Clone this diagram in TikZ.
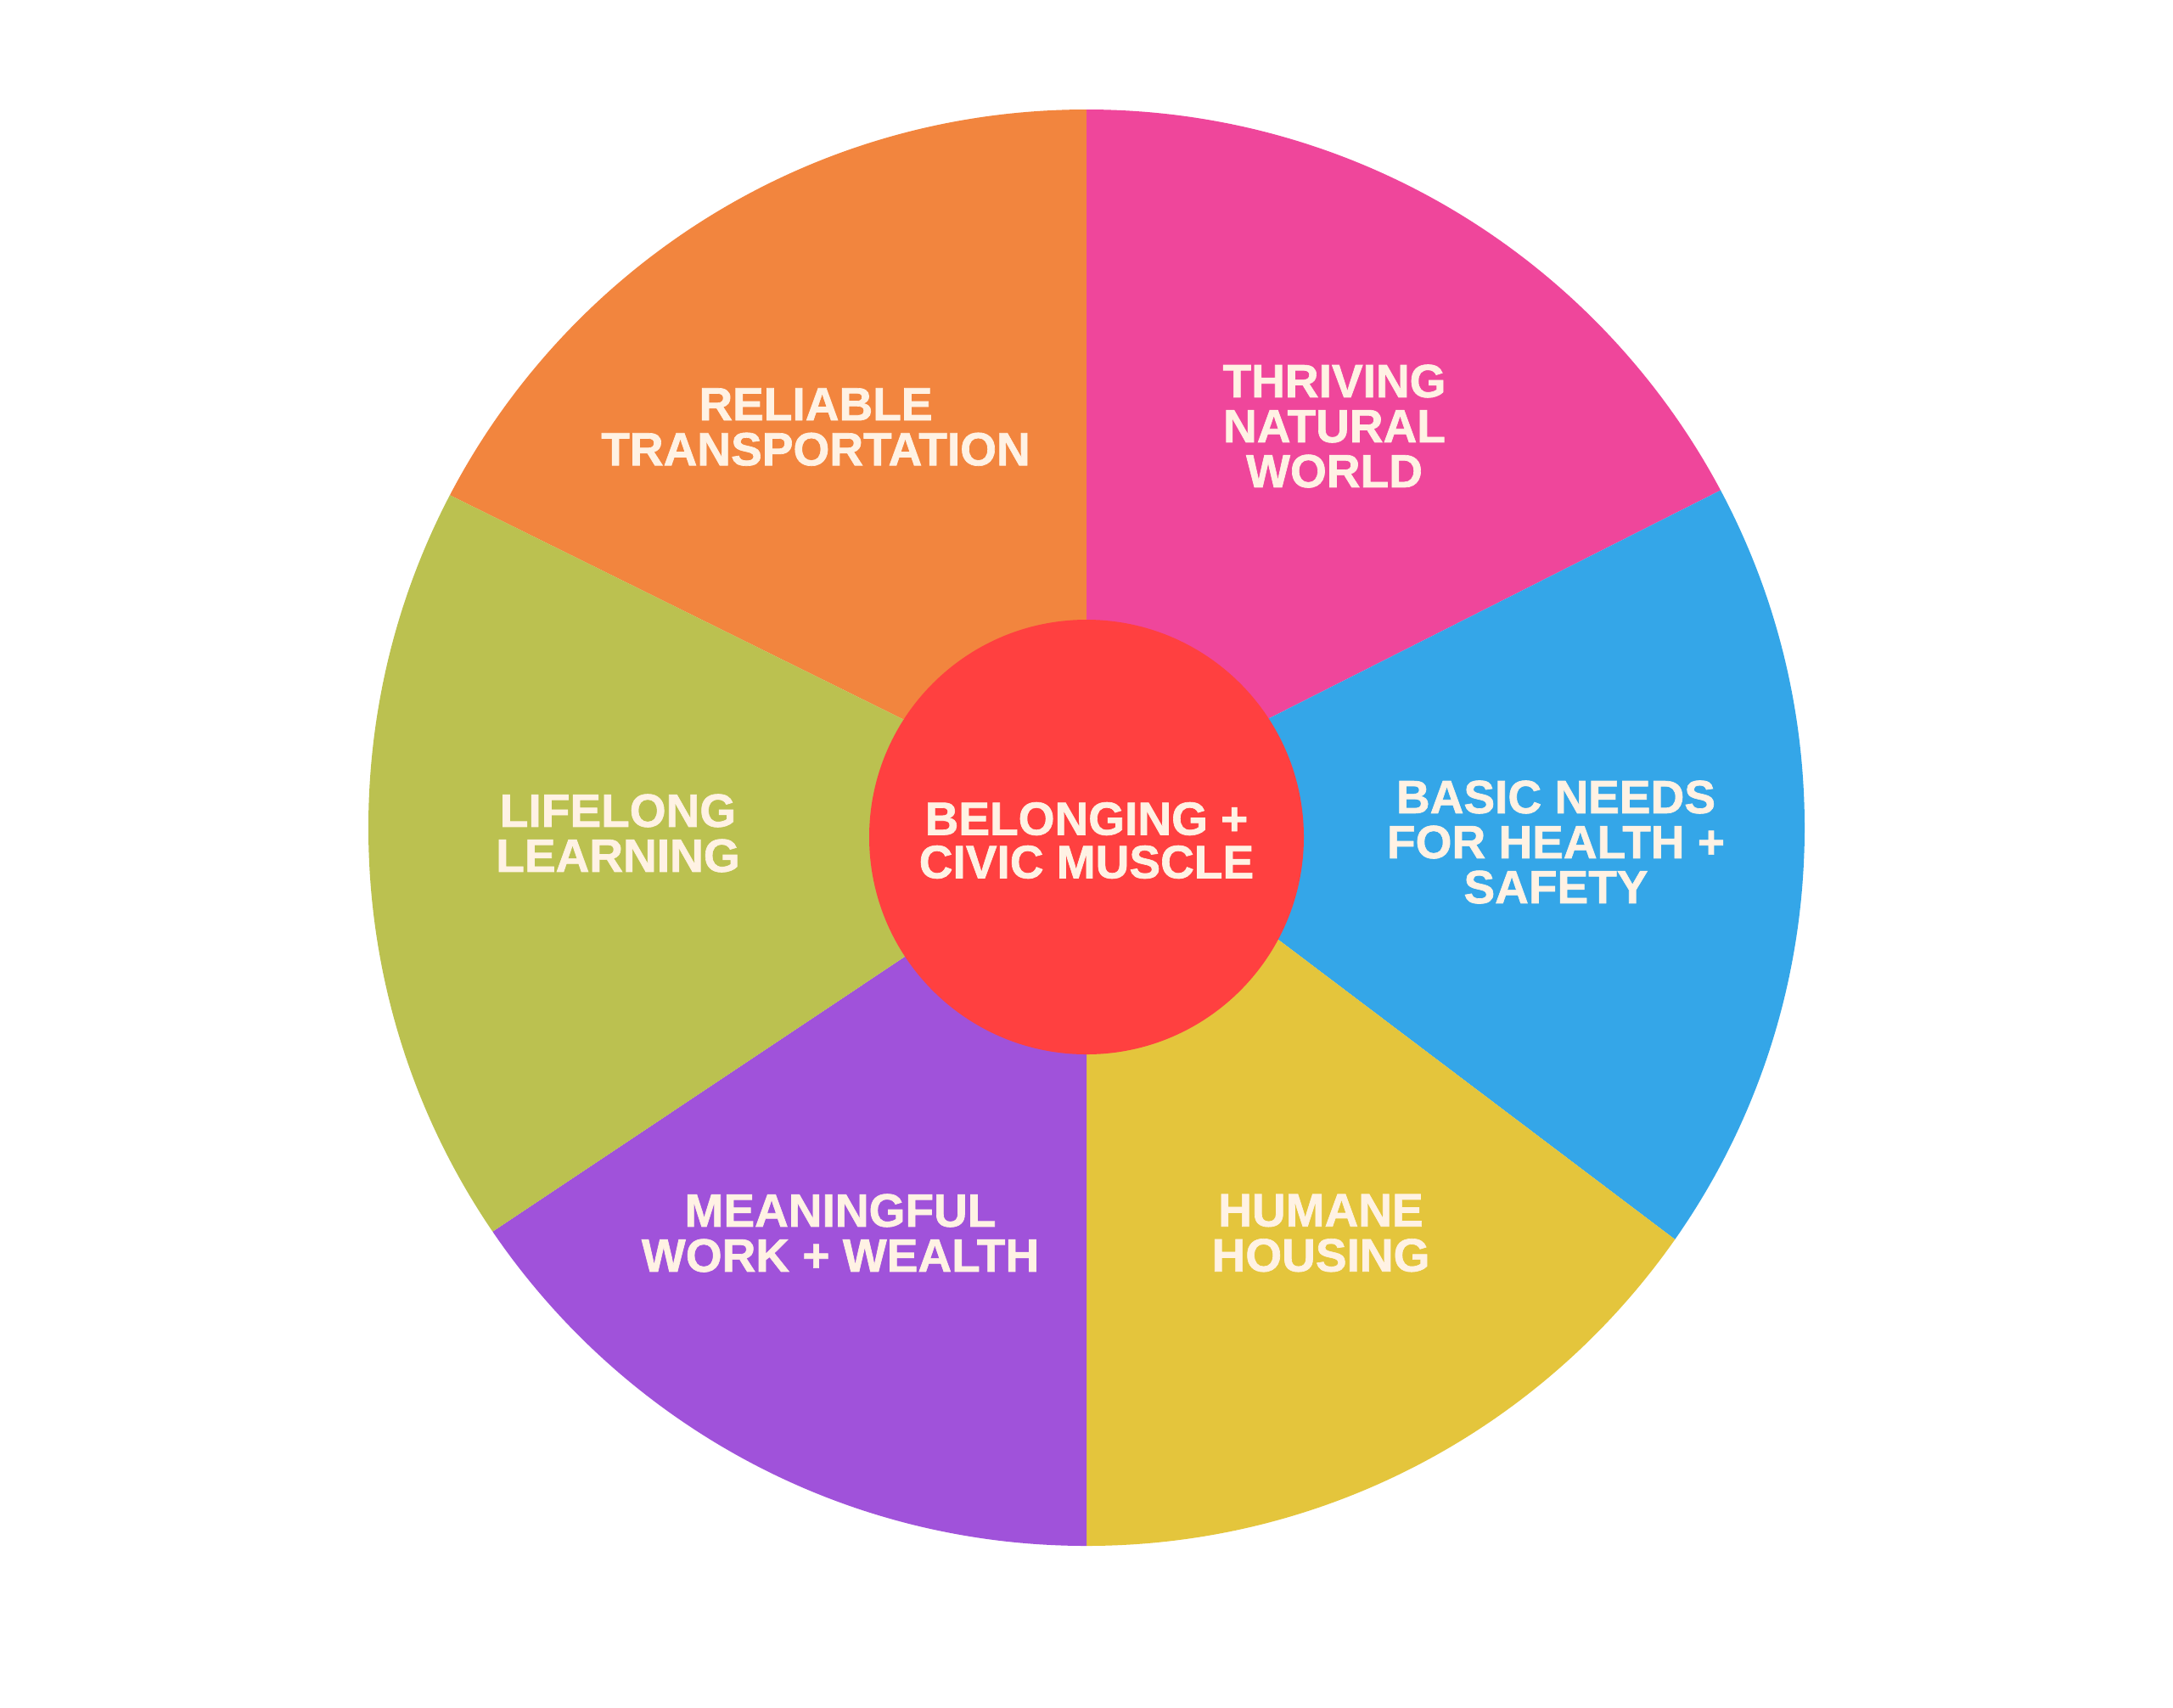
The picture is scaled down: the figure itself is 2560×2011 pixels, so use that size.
\documentclass[tikz,border=0pt]{standalone}
\usepackage{fontspec}
\setmainfont{Liberation Sans}
\newfontfamily\lblfont{Liberation Sans Bold}[FakeBold=1.2]
\definecolor{corange}{RGB}{242,133,62}
\definecolor{cpink}{RGB}{239,70,155}
\definecolor{cblue}{RGB}{52,166,232}
\definecolor{cyellow}{RGB}{228,197,60}
\definecolor{cpurple}{RGB}{160,82,218}
\definecolor{cgreen}{RGB}{187,193,80}
\definecolor{cred}{RGB}{255,64,64}
\definecolor{ctext}{RGB}{255,242,228}
\begin{document}
\begin{tikzpicture}[x=0.01cm,y=-0.01cm,
  lbl/.style={text=ctext,font=\fontsize{15.65}{15.08}\selectfont\lblfont,align=center,inner sep=0pt}]
\useasboundingbox (0,0) rectangle (2560,2011);
\fill[white] (0,0) rectangle (2560,2011);
\coordinate (C) at (1280,986);
\coordinate (Q1) at (1064.3,847.5);
\coordinate (E1) at (369.7,504);
\coordinate (Q2) at (1494.6,846.4);
\coordinate (E2) at (2186.3,497.1);
\coordinate (Q3) at (1505.4,1106.4);
\coordinate (E3) at (2113.7,1566.1);
\coordinate (Q4) at (1066.1,1126.8);
\coordinate (E4) at (434.2,1548.3);
\begin{scope}
\clip (1280,975) circle [radius=846];
\fill[corange] (C) -- (Q1) -- (E1) -- (369.7,0) -- (1280,0) -- cycle;
\fill[cpink] (C) -- (1280,0) -- (2186.3,0) -- (E2) -- (Q2) -- cycle;
\fill[cblue] (C) -- (Q2) -- (E2) -- (2300,497.1) -- (2300,1566.1) -- (E3) -- (Q3) -- cycle;
\fill[cyellow] (C) -- (Q3) -- (E3) -- (2113.7,2011) -- (1280,2011) -- cycle;
\fill[cpurple] (C) -- (1280,2011) -- (434.2,2011) -- (E4) -- (Q4) -- cycle;
\fill[cgreen] (C) -- (Q4) -- (E4) -- (300,1548.3) -- (300,504) -- (E1) -- (Q1) -- cycle;
\end{scope}
\fill[cred] (C) circle [radius=256];
\node[lbl] (rel) at (961,503) {RELIABLE\\TRANSPORTATION};
\node[lbl] (thr) at (1572,502) {THRIVING\\NATURAL\\WORLD};
\node[lbl] (bas) at (1833,992) {BASIC NEEDS\\FOR HEALTH +\\SAFETY};
\node[lbl,font=\fontsize{15.65}{14.5}\selectfont\lblfont] (bel) at (1280,990) {BELONGING +\\CIVIC MUSCLE};
\node[lbl] (lif) at (728,981.5) {LIFELONG\\LEARNING};
\node[lbl] (mea) at (990,1452.5) {MEANINGFUL\\WORK + WEALTH};
\node[lbl] (hum) at (1556,1452.5) {HUMANE\\HOUSING};
\end{tikzpicture}
\end{document}
